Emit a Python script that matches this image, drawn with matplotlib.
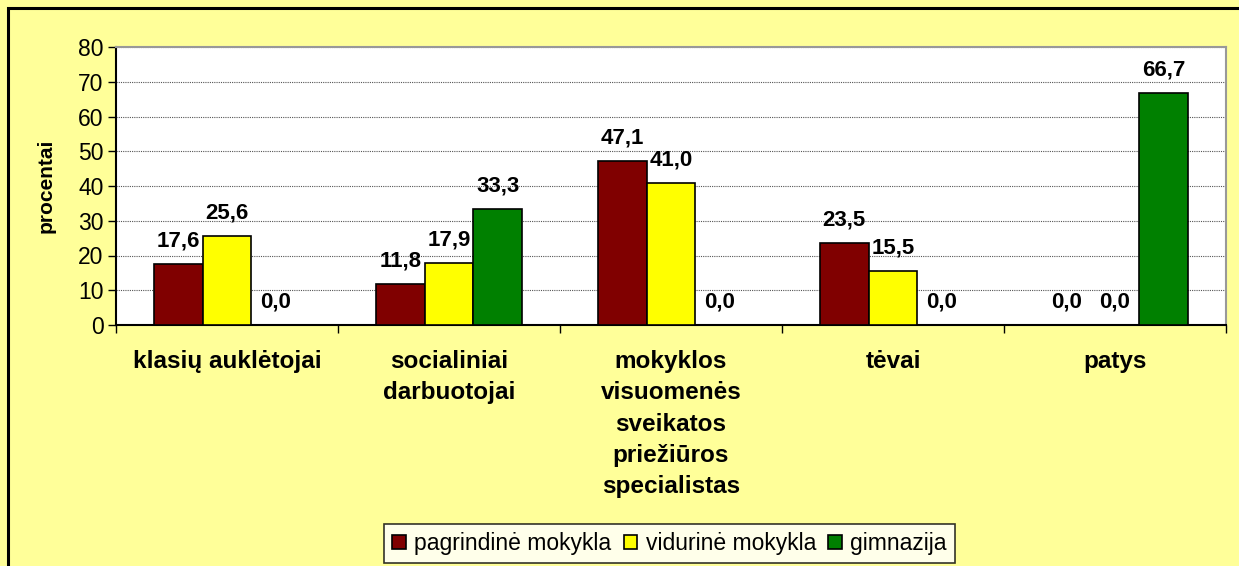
import matplotlib.pyplot as plt
import numpy as np
from matplotlib.patches import Rectangle

categories = ['klasių auklėtojai', 'socialiniai\ndarbuotojai',
              'mokyklos\nvisuomenės\nsveikatos\npriežiūros\nspecialistas',
              'tėvai', 'patys']
series_names = ['pagrindinė mokykla', 'vidurinė mokykla', 'gimnazija']
pagrindine = [17.6, 11.8, 47.1, 23.5, 0.0]
vidurine = [25.6, 17.9, 41.0, 15.5, 0.0]
gimnazija = [0.0, 33.3, 0.0, 0.0, 66.7]
colors = ['#800000', '#FFFF00', '#008000']

plt.rcParams['font.family'] = ['Liberation Sans', 'DejaVu Sans']

fig = plt.figure(figsize=(12.39, 5.66), dpi=100)
fig.patch.set_facecolor('#FFFF99')
fig.patches.append(Rectangle((7.5 / 1239, -0.1), 1.2, 1.1 - 7.5 / 566,
                             transform=fig.transFigure, fill=False,
                             edgecolor='black', linewidth=2.2, zorder=0))

ax = fig.add_axes([116 / 1239, 1 - 325 / 566, 1110 / 1239, 278 / 566])
ax.set_facecolor('white')

x = np.arange(len(categories))
w = 0.22
for i, (vals, name) in enumerate(zip([pagrindine, vidurine, gimnazija], series_names)):
    pos = x + (i - 1) * w
    ax.bar(pos, vals, width=w, color=colors[i], edgecolor='black',
           linewidth=1.2, label=name, zorder=3)
    for px, v in zip(pos, vals):
        ax.text(px, v + 5.0, f'{v:.1f}'.replace('.', ','), ha='center', va='baseline',
                fontsize=16, fontweight='bold', zorder=4)

ax.set_xlim(-0.5, len(categories) - 0.5)
ax.set_ylim(0, 80)
ax.set_yticks(np.arange(0, 81, 10))
ax.tick_params(axis='y', labelsize=16.5, length=6, width=1, direction='out', pad=3)
ax.set_xticks(np.arange(-0.5, len(categories), 1))
ax.set_xticklabels([])
ax.tick_params(axis='x', length=6, width=1, direction='out')
for xi, lab in zip(x, categories):
    ax.text(xi, -7.3, lab, ha='center', va='top', fontsize=17.5,
            fontweight='bold', linespacing=1.45)

ax.yaxis.grid(True, linestyle=(0, (1, 1)), color='#555555', linewidth=0.8, zorder=0)
ax.set_axisbelow(True)
for s in ['top', 'right']:
    ax.spines[s].set_color('#999999')
    ax.spines[s].set_linewidth(1.5)
for s in ['left', 'bottom']:
    ax.spines[s].set_color('black')
    ax.spines[s].set_linewidth(1.5)

ax.set_ylabel('procentai', fontsize=15, fontweight='bold', labelpad=16)

leg = fig.legend(loc='center', bbox_to_anchor=(669.5 / 1239, 1 - 543.5 / 566),
                 ncol=3, fontsize=16.5, frameon=True, fancybox=False,
                 handlelength=0.6, handleheight=0.6, handletextpad=0.35,
                 columnspacing=0.55, borderpad=0.35, borderaxespad=0)
leg.get_frame().set_edgecolor('black')
leg.get_frame().set_linewidth(1.2)

fig.savefig('out.png', dpi=100, facecolor=fig.get_facecolor())
